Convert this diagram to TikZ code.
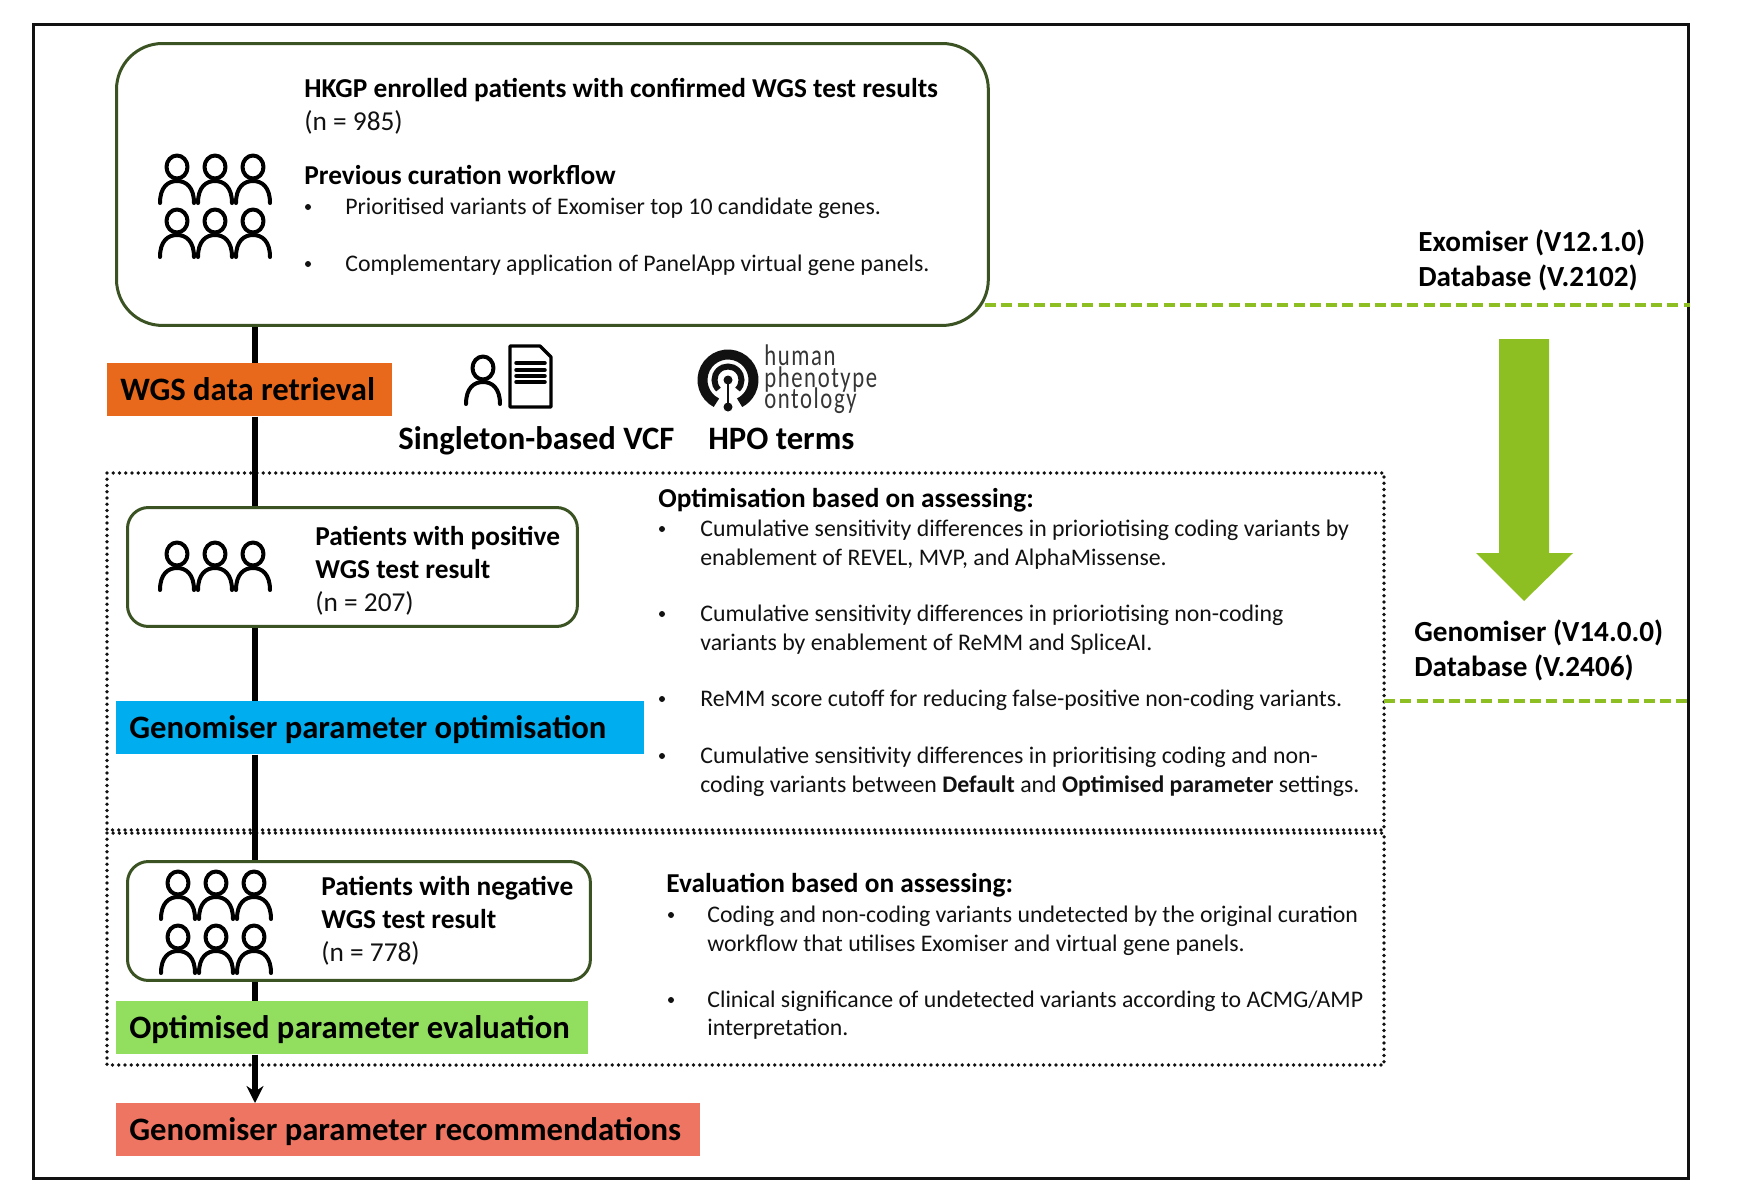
\documentclass[tikz,border=0pt]{standalone}
\usepackage{fontspec}
\setmainfont{Carlito}
\newfontfamily\hpofont[LetterSpace=7]{Carlito}
\usetikzlibrary{arrows.meta}
\definecolor{boxline}{HTML}{3B5323}
\definecolor{limeline}{HTML}{8DBE22}
\definecolor{retrievalfill}{HTML}{E8691B}
\definecolor{optimfill}{HTML}{00ADEF}
\definecolor{evalfill}{HTML}{92DF5F}
\definecolor{recfill}{HTML}{EE7562}
\definecolor{inkdark}{HTML}{111111}
\tikzset{
  bodytext/.style={anchor=base west,inner sep=0,text=inkdark,font=\fontsize{13.55}{16}\selectfont},
  counttext/.style={anchor=base west,inner sep=0,text=inkdark,font=\fontsize{15.55}{18}\selectfont},
  headtext/.style={anchor=base west,inner sep=0,text=black,font=\fontsize{15.55}{18}\selectfont\bfseries},
  sidetext/.style={anchor=base west,inner sep=0,text=black,font=\fontsize{16.6}{19}\selectfont\bfseries},
  bigtext/.style={anchor=base west,inner sep=0,text=black,font=\fontsize{18.6}{21}\selectfont\bfseries},
  hpotext/.style={anchor=base west,inner sep=0,text=inkdark!85,font=\fontsize{17}{17}\hpofont},
  roundbox/.style={draw=boxline,line width=0.06cm,rounded corners=#1,anchor=north west,inner sep=0},
  barbox/.style={anchor=north west,inner xsep=0.26cm,inner ysep=0,text width=#1,align=flush left,
    text height=0.75cm,text depth=0.31cm,text=black,font=\fontsize{18.6}{21}\selectfont\bfseries},
  dotbox/.style={draw=inkdark,line width=0.075cm,line cap=round,dash pattern=on 0pt off 0.125cm},
  spine/.style={draw=black,line width=0.11cm},
  iconline/.style={draw=black,line width=0.08cm,line cap=round,line join=round},
  limedash/.style={draw=limeline,line width=0.08cm,dash pattern=on 0.22cm off 0.105cm}
}
\newcommand\patient[1]{%
\begin{scope}[shift={(#1)}]
\draw[iconline] (0,0) circle[x radius=10.5,y radius=11.5];
\draw[iconline] (-17,36) .. controls (-17,20) and (-9,14) .. (0,14) .. controls (9,14) and (17,20) .. (17,36);
\end{scope}
}
\newcommand\listdot[2]{%
\fill[inkdark] (#1,#2-7) circle(3);
}
\begin{document}
\begin{tikzpicture}[x=0.02cm,y=-0.02cm]
	\useasboundingbox (0,0) rectangle (1755,1191);
	\node[draw=inkdark,line width=0.06cm,anchor=north west,inner sep=0,minimum width=33.1cm,minimum height=23.08cm] (frame) at (32,23) {};

	% dotted sections first
	\draw[dotbox] (107,473) rectangle (1384,830);
	\draw[dotbox] (107,833) rectangle (1384,1065);

	\node[roundbox=0.92cm,minimum width=17.44cm,minimum height=5.64cm] (hkgp) at (115,42) {};
	\node[roundbox=0.42cm,minimum width=9cm,minimum height=2.38cm] (positive) at (126,506) {};
	\node[roundbox=0.42cm,minimum width=9.26cm,minimum height=2.38cm] (negative) at (126,860) {};

	\node[barbox=5.18cm,fill=retrievalfill] (retrieval) at (107,363) {WGS data retrieval};
	\node[barbox=10.04cm,fill=optimfill] (optim) at (116,701) {Genomiser parameter optimisation};
	\node[barbox=8.92cm,fill=evalfill] (evalbar) at (116,1001) {Optimised parameter evaluation};
	\node[barbox=11.16cm,fill=recfill] (recs) at (116,1103) {Genomiser parameter recommendations};

	% the line down the left
	\coordinate (spineX) at (255,0);
	\draw[spine] (hkgp.south -| spineX) -- (retrieval.north -| spineX);
	\draw[spine] (retrieval.south -| spineX) -- (positive.north -| spineX);
	\draw[spine] (positive.south -| spineX) -- (optim.north -| spineX);
	\draw[spine] (optim.south -| spineX) -- (negative.north -| spineX);
	\draw[spine] (negative.south -| spineX) -- (evalbar.north -| spineX);
	\draw[spine,-{Stealth[length=0.34cm,width=0.34cm]}] (evalbar.south -| spineX) -- (recs.north -| spineX);

	% top box
	\node[headtext] (hkgpTitle) at (304,97) {HKGP enrolled patients with confirmed WGS test results};
	\node[counttext] (hkgpCount) at (304,130) {(n = 985)};
	\node[headtext] (curationTitle) at (304,184) {Previous curation workflow};
	\listdot{308}{214}
	\node[bodytext] (curationA) at (345,214) {Prioritised variants of Exomiser top 10 candidate genes.};
	\listdot{308}{271}
	\node[bodytext] (curationB) at (345,271) {Complementary application of PanelApp virtual gene panels.};

	\patient{177,167}
	\patient{215,167}
	\patient{253,167}
	\patient{177,221}
	\patient{215,221}
	\patient{253,221}

	% middle icons
	\patient{483,368}
	\draw[iconline,line width=0.065cm] (510,346) -- (540,346) -- (551,357) -- (551,407) -- (510,407) -- cycle;
	\draw[iconline,line width=0.07cm] (516,363) -- (545,363);
	\draw[iconline,line width=0.07cm] (516,370) -- (545,370);
	\draw[iconline,line width=0.07cm] (516,376) -- (545,376);
	\draw[iconline,line width=0.07cm] (516,382) -- (545,382);
	\node[bigtext] (vcfLabel) at (398,449) {Singleton-based VCF};

	\def\hpoX{728}
	\def\hpoY{380}
	\draw[draw=inkdark,line width=0.2cm] (\hpoX,\hpoY) ++(117:25.5) arc (117:423:25.5);
	\draw[draw=inkdark,line width=0.12cm] (\hpoX,\hpoY) ++(135:13.5) arc (135:405:13.5);
	\fill[inkdark] (\hpoX,\hpoY) circle(4.5);
	\fill[inkdark] (\hpoX,\hpoY+27) circle(4.5);
	\draw[draw=inkdark,line width=0.05cm] (\hpoX,\hpoY) -- (\hpoX,\hpoY+27);
	\node[hpotext] (hpoA) at (764,365) {\scalebox{0.76}[1]{human}};
	\node[hpotext] (hpoB) at (764,387) {\scalebox{0.76}[1]{phenotype}};
	\node[hpotext] (hpoC) at (764,408) {\scalebox{0.76}[1]{ontology}};
	\node[bigtext] (hpoLabel) at (708,449) {HPO terms};

	% positive box
	\patient{177,554}
	\patient{215,554}
	\patient{253,554}
	\node[headtext] (posA) at (315,545) {Patients with positive};
	\node[headtext] (posB) at (315,578) {WGS test result};
	\node[counttext] (posC) at (315,611) {(n = 207)};

	% optimisation list
	\node[headtext] (optTitle) at (658,507) {Optimisation based on assessing:};
	\listdot{662}{536}
	\node[bodytext] (optA) at (700,536) {Cumulative sensitivity differences in prioriotising coding variants by};
	\node[bodytext] (optB) at (700,565) {enablement of REVEL, MVP, and AlphaMissense.};
	\listdot{662}{621}
	\node[bodytext] (optC) at (700,621) {Cumulative sensitivity differences in prioriotising non-coding};
	\node[bodytext] (optD) at (700,650) {variants by enablement of ReMM and SpliceAI.};
	\listdot{662}{706}
	\node[bodytext] (optE) at (700,706) {ReMM score cutoff for reducing false-positive non-coding variants.};
	\listdot{662}{763}
	\node[bodytext] (optF) at (700,763) {Cumulative sensitivity differences in prioritising coding and non-};
	\node[bodytext] (optG) at (700,792) {coding variants between \textbf{Default} and \textbf{Optimised parameter} settings.};

	% negative box
	\patient{178,883}
	\patient{216,883}
	\patient{254,883}
	\patient{178,937}
	\patient{216,937}
	\patient{254,937}
	\node[headtext] (negA) at (321,895) {Patients with negative};
	\node[headtext] (negB) at (321,928) {WGS test result};
	\node[counttext] (negC) at (321,961) {(n = 778)};

	% evaluation list
	\node[headtext] (evalTitle) at (666,892) {Evaluation based on assessing:};
	\listdot{671}{922}
	\node[bodytext] (evalA) at (707,922) {Coding and non-coding variants undetected by the original curation};
	\node[bodytext] (evalB) at (707,951) {workflow that utilises Exomiser and virtual gene panels.};
	\listdot{671}{1007}
	\node[bodytext] (evalC) at (707,1007) {Clinical significance of undetected variants according to ACMG/AMP};
	\node[bodytext] (evalD) at (707,1035) {interpretation.};

	% right side
	\node[sidetext] (exoA) at (1418,251) {Exomiser (V12.1.0)};
	\node[sidetext] (exoB) at (1418,286) {Database (V.2102)};
	\node[sidetext] (genoA) at (1414,641) {Genomiser (V14.0.0)};
	\node[sidetext] (genoB) at (1414,676) {Database (V.2406)};

	\coordinate (oldStart) at (985,305);
	\coordinate (newStart) at (1384,701);
	\draw[limedash] (oldStart) -- (oldStart -| frame.east);
	\draw[limedash] (newStart) -- (newStart -| frame.east);

	\fill[limeline] (1499,339) -- (1549,339) -- (1549,553) -- (1573,553) -- (1524,601) -- (1476,553) -- (1499,553) -- cycle;
\end{tikzpicture}
\end{document}
